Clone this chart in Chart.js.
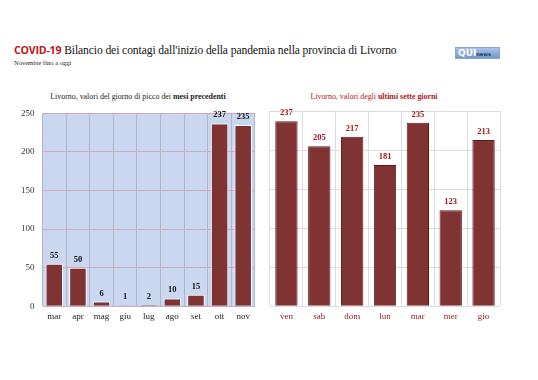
<!DOCTYPE html>
<html>
<head>
<meta charset="utf-8">
<script src="https://cdn.jsdelivr.net/npm/chart.js@4"></script>
<style>
  body { margin: 0; background: #fff; width: 538px; height: 380px; position: relative; overflow: hidden; font-family: "Liberation Serif", serif; }
  .title { position: absolute; left: 14px; top: 43px; font-size: 11.6px; color: #111; white-space: nowrap; letter-spacing: -0.1px; }
  .title .covid { font-family: "Open Sans", sans-serif; font-weight: bold; color: #c0141c; font-size: 10.6px; letter-spacing: -0.2px; }
  .sub { position: absolute; left: 14px; top: 59px; font-size: 6.5px; color: #222; }
  .logo { position: absolute; left: 455px; top: 47px; width: 45px; height: 12px; background: linear-gradient(#a9c2e4, #7398cc); border: 1px solid #8aa6cc; font-family: "DejaVu Sans", sans-serif; color: #fff; line-height: 11px; font-size: 9px; font-weight: bold; padding-left: 2px; box-sizing: border-box; }
  .logo span { font-size: 5px; font-weight: bold; color: #1e3c6e; }
  .ct { position: absolute; top: 92px; font-size: 7.9px; white-space: nowrap; transform: translateX(-50%); }
  .ct.left { left: 138px; color: #222; }
  .ct.right { left: 374px; color: #b01418; }
  canvas { position: absolute; }
</style>
</head>
<body>
<div class="title"><span class="covid">COVID-19</span> Bilancio dei contagi dall'inizio della pandemia nella provincia di Livorno</div>
<div class="sub">Novembre fino a oggi</div>
<div class="logo">QUI<span>news</span></div>
<div class="ct left">Livorno, valori del giorno di picco dei <b>mesi precedenti</b></div>
<div class="ct right">Livorno, valori degli <b>ultimi sette giorni</b></div>
<div id="w1" style="position:absolute;left:0;top:100px;width:262px;height:230px"><canvas id="c1"></canvas></div>
<div id="w2" style="position:absolute;left:262px;top:100px;width:250px;height:230px"><canvas id="c2"></canvas></div>
<script>
// mesi precedenti: picco giornaliero per mese
const months = ["mar", "apr", "mag", "giu", "lug", "ago", "set", "ott", "nov"];
const monthPeaks = [55, 50, 6, 1, 2, 10, 15, 237, 235];

// ultimi sette giorni
const days = ["ven", "sab", "dom", "lun", "mar", "mer", "gio"];
const dayValues = [237, 205, 217, 181, 235, 123, 213];

const yTicks = [0, 50, 100, 150, 200, 250];

const barColor = "#7f3333";

// draws value labels above bars
const valueLabels = {
  id: "valueLabels",
  afterDatasetsDraw(chart, args, opts) {
    const ctx = chart.ctx;
    const meta = chart.getDatasetMeta(0);
    ctx.save();
    ctx.font = "bold 8.5px 'Liberation Serif', serif";
    ctx.fillStyle = opts.color;
    ctx.textAlign = "center";
    ctx.textBaseline = "bottom";
    meta.data.forEach((bar, i) => {
      ctx.fillText(chart.data.datasets[0].data[i], bar.x, bar.y - 4);
    });
    ctx.restore();
  },
};

// light blue plot background for the left chart
const plotBg = {
  id: "plotBg",
  beforeDraw(chart, args, opts) {
    if (!opts.color) return;
    const a = chart.chartArea;
    chart.ctx.save();
    chart.ctx.fillStyle = opts.color;
    chart.ctx.fillRect(a.left, a.top, a.right - a.left, a.bottom - a.top);
    chart.ctx.restore();
  },
};

function makeChart(id, labels, values, opts) {
  return new Chart(document.getElementById(id), {
    type: "bar",
    data: {
      labels: labels,
      datasets: [{
        data: values,
        backgroundColor: barColor,
        borderColor: opts.border,
        borderWidth: 1,
        categoryPercentage: 1,
        barPercentage: opts.barPct,
      }],
    },
    options: {
      responsive: true,
      maintainAspectRatio: false,
      animation: false,
      layout: { padding: opts.padding },
      scales: {
        x: {
          grid: { color: opts.vGrid, offset: true, drawTicks: false },
          border: { display: false },
          ticks: { color: opts.textColor, font: { family: "Liberation Serif", size: 9 }, padding: 5 },
        },
        y: {
          min: 0,
          max: 250,
          afterBuildTicks: (axis) => { axis.ticks = yTicks.map((v) => ({ value: v })); },
          grid: { color: opts.hGrid, drawTicks: false },
          border: { display: false },
          ticks: { display: opts.showY, color: "#333", font: { family: "Liberation Serif", size: 9 }, padding: 8 },
        },
      },
      plugins: {
        legend: { display: false },
        tooltip: { enabled: false },
        valueLabels: { color: opts.labelColor },
        plotBg: { color: opts.bg },
      },
    },
    plugins: [valueLabels, plotBg],
  });
}

makeChart("c1", months, monthPeaks, {
  border: "#ffffff",
  barPct: 0.74,
  padding: { left: 13, right: 7, top: 11, bottom: 3 },
  vGrid: "#b4b4c8",
  hGrid: "#d2a9bb",
  textColor: "#222",
  showY: true,
  labelColor: "#111",
  bg: "#c9d8f0",
});

makeChart("c2", days, dayValues, {
  border: "#5e1a1a",
  barPct: 0.68,
  padding: { left: 8, right: 12, top: 11, bottom: 3 },
  vGrid: "#dcdcdc",
  hGrid: "#dcdcdc",
  textColor: "#8b1a1a",
  showY: false,
  labelColor: "#a3141a",
  bg: null,
});
</script>
</body>
</html>
